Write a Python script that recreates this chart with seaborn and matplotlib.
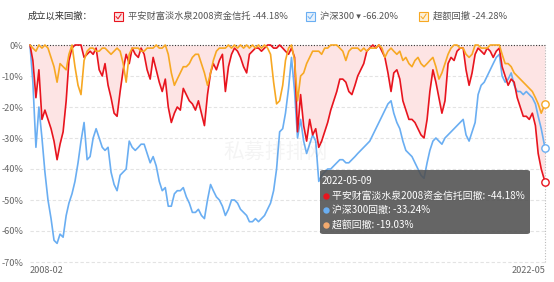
import numpy as np
import pandas as pd
import matplotlib
matplotlib.use("Agg")
import matplotlib.pyplot as plt
import seaborn as sns
from matplotlib.patches import FancyBboxPatch, Rectangle
from matplotlib.lines import Line2D

# ---------------- data ----------------
START = "2008-02-01"
END_DATE = "2022-05-09"

fund_dd = (
    [0, -5, -17, -8, -24, -21, -24, -27, -31, -37, -32]                       # 2008
    + [-28, -18, -5, -1, 0, 0, 0, -4, -3, -2, -3, -1]                       # 2009
    + [-8, -10, -6, -13, -17, -22, -23, -15, -8, -3, -6, -1]                # 2010
    + [-3, -4, -1, -3, -8, -11, -4, -8, -12, -15, -11, -20]                 # 2011
    + [-25, -22, -20, -21, -14, -16, -18, -19, -21, -18, -22, -26]          # 2012
    + [-16, -9, -6, -8, -5, -3, -15, -7, -3, -1, -2, -4]                    # 2013
    + [-7, -9, -3, -2, -1, -1, -2, -1, 0, 0, -1, -1]                        # 2014
    + [0, -1, -2, -3, -1, -4, -28, -16, -26, -31, -24, -29]                 # 2015
    + [-27, -33, -31, -28, -25, -21, -18, -15, -11, -11, -12, -15]          # 2016
    + [-16, -13, -10, -8, -6, -2, -1, 0, -1, 0, -2, -4]                     # 2017
    + [-9, -15, -9, -8, -11, -18, -21, -24, -24, -25, -27, -29]             # 2018
    + [-30, -24, -15, -8, -12, -17, -22, -18, -6, -4, -5, -2]               # 2019
    + [-1, -1, -8, -13, -9, -3, -1, -2, -3, -1, -2, -4]                     # 2020
    + [-2, -1, -7, -10, -13, -11, -12, -17, -20, -23, -23, -24]             # 2021
    + [-22, -26, -35, -40, -44.18]                                          # 2022
)

csi300_dd = (
    [0, -12, -33, -20, -30, -41, -50, -56, -63, -64, -61]
    + [-62, -55, -51, -48, -44, -38, -31, -25, -37, -36, -30, -27]
    + [-30, -33, -34, -33, -41, -45, -47, -42, -41, -40, -31, -33]
    + [-34, -33, -32, -32, -35, -38, -36, -39, -44, -47, -46, -52]
    + [-52, -48, -47, -47, -46, -49, -51, -54, -54, -53, -55, -56]
    + [-50, -45, -47, -49, -50, -52, -55, -53, -50, -50, -51, -53]
    + [-54, -55, -57, -57, -56, -57, -56, -55, -53, -51, -47, -40]
    + [-28, -27, -22, -14, -4, -15, -30, -24, -31, -35, -32, -29]
    + [-31, -44, -42, -41, -40, -40, -39, -38, -37, -37, -38, -38]
    + [-37, -36, -35, -34, -33, -32, -31, -29, -27, -25, -23, -21]
    + [-19, -18, -22, -25, -27, -31, -34, -35, -36, -38, -40, -42]
    + [-43, -38, -34, -31, -30, -31, -32, -30, -29, -28, -27, -26]
    + [-25, -24, -29, -31, -28, -25, -16, -13, -12, -10, -8, -6]
    + [-4, -3, -10, -12, -11, -9, -13, -15, -15, -16, -15, -16]
    + [-17, -19, -23, -27, -33.24]
)

excess_dd = (
    [0, -1, -2, 0, -1, 0, -1, -4, -7, -12, -6]
    + [-7, -8, -3, 0, -7, -13, -16, -5, -2, -1, -1, -2]
    + [-2, -1, -1, -2, -3, -2, -1, -2, -6, -12, -3, -1]
    + [-1, -1, -2, -2, -1, -1, -1, 0, -1, -1, 0, -3]
    + [-9, -13, -11, -9, -7, -7, -6, -4, -3, -3, -6, -9]
    + [-13, -9, -5, -2, -1, -1, -1, 0, -1, 0, -1, 0]
    + [-1, 0, -1, 0, -1, 0, -1, 0, -1, -3, -12, -19]
    + [-18, -13, -5, -1, 0, -5, -18, -10, -9, -6, -4, -2]
    + [-2, -2, -3, -1, -1, 0, 0, 0, -1, -2, -5, -2]
    + [-1, -1, -1, -2, -1, -2, -1, -1, -1, 0, -1, -4]
    + [-2, -1, -2, -3, -2, -5, -4, -6, -7, -5, -4, -6]
    + [-7, -6, -5, -4, -7, -11, -9, -6, -3, -1, 0, 0]
    + [-1, -1, -3, -4, -3, 0, 0, -1, -1, -1, 0, 0]
    + [0, 0, -3, -6, -6, -7, -9, -10, -11, -12, -13, -14]
    + [-15, -17, -19, -22, -19.03]
)

series_names = ["平安财富淡水泉2008资金信托", "沪深300", "超额回撤"]
max_dd = [-44.18, -66.20, -24.28]
tooltip_labels = ["平安财富淡水泉2008资金信托回撤", "沪深300回撤", "超额回撤"]
y_ticks = [0, -10, -20, -30, -40, -50, -60, -70]
x_tick_labels = ["2008-02", "2022-05"]

months = pd.date_range(START, periods=len(fund_dd), freq="MS")
dates = months[:-1].append(pd.DatetimeIndex([END_DATE]))

RED = "#e8141e"
BLUE = "#6aaef2"
ORANGE = "#f7a823"
ORANGE_DOT = "#f3aa6e"
FILL = "#fde4e4"
TINTS = {RED: "#fbe3e3", BLUE: "#e6f1fc", ORANGE: "#fdf0d8"}

sns.set_theme(style="white")
plt.rcParams["font.family"] = ["Noto Sans CJK SC", "DejaVu Sans"]

W, H = 554, 282
fig = plt.figure(figsize=(W / 100, H / 100), dpi=100)
ax = fig.add_axes([30 / W, 1 - 262 / H, 515 / W, 217 / H])

def fx(px):
    return px / W

def fy(py):
    return 1 - py / H

# fill under fund drawdown
ax.fill_between(dates, fund_dd, 0, color=FILL, lw=0, zorder=1)

# grid lines
for v in y_ticks[1:]:
    ax.axhline(v, color="#e3e3e3", lw=0.8, ls=(0, (3, 2)), zorder=0)
ax.axhline(0, color="#333333", lw=0.8, ls=(0, (1, 1.5)), zorder=2)
ax.axvline(dates[-1], color="#bbbbbb", lw=0.8, ls=(0, (1, 1.5)), zorder=2)

df = pd.DataFrame({"date": dates, "fund": fund_dd, "csi": csi300_dd, "excess": excess_dd})
sns.lineplot(data=df, x="date", y="fund", color=RED, lw=1.2, ax=ax, zorder=4)
sns.lineplot(data=df, x="date", y="csi", color=BLUE, lw=1.2, ax=ax, zorder=3)
sns.lineplot(data=df, x="date", y="excess", color=ORANGE, lw=1.2, ax=ax, zorder=5)
for ln in ax.lines:
    ln.set_clip_on(False)

# end markers
for col, c in [("fund", RED), ("csi", BLUE), ("excess", ORANGE)]:
    ax.scatter([df["date"].iloc[-1]], [df[col].iloc[-1]], s=28, facecolor="white",
               edgecolor=c, linewidth=1.0, zorder=7, clip_on=False)

ax.set_xlim(dates[0], dates[-1])
ax.set_ylim(-70, 0)
ax.set_xlabel("")
ax.set_ylabel("")
for s in ax.spines.values():
    s.set_visible(False)
ax.set_yticks(y_ticks)
ax.set_yticklabels([f"{v}%" for v in y_ticks])
ax.tick_params(axis="y", length=0, pad=5, labelsize=6.6, labelcolor="#666666")
ax.set_xticks([dates[0], dates[-1]])
ax.set_xticklabels(x_tick_labels)
ax.tick_params(axis="x", length=0, pad=3, labelsize=6.6, labelcolor="#666666")
lbls = ax.get_xticklabels()
lbls[0].set_ha("left")
lbls[1].set_ha("right")

# watermark
fig.text(fx(276), fy(152), "私募排排网", fontsize=15, color="#000000", alpha=0.045,
         ha="center", va="center")

# legend row
ly = fy(16.5)
fig.text(fx(28), ly, "成立以来回撤：", fontsize=6.7, color="#333333", ha="left", va="center")
legend_items = [
    (114, RED, f"{series_names[0]} {max_dd[0]:.2f}%"),
    (306, BLUE, f"{series_names[1]} ▾ {max_dd[1]:.2f}%"),
    (419, ORANGE, f"{series_names[2]} {max_dd[2]:.2f}%"),
]
for bx, c, txt in legend_items:
    fig.add_artist(Rectangle((fx(bx), fy(21)), 9 / W, 9 / H, transform=fig.transFigure,
                             facecolor=TINTS[c], edgecolor=c, lw=0.8))
    fig.add_artist(Line2D([fx(bx + 2), fx(bx + 4), fx(bx + 7.2)],
                          [fy(16.5), fy(18.8), fy(14)], transform=fig.transFigure,
                          color=c, lw=0.7))
    fig.text(fx(bx + 14), ly, txt, fontsize=6.7, color="#555555", ha="left", va="center")

# tooltip
tip = FancyBboxPatch((fx(320), fy(234)), (530 - 320) / W, (234 - 170) / H,
                     boxstyle="round,pad=0,rounding_size=0.006", transform=fig.transFigure,
                     facecolor="#505050", edgecolor="none", alpha=0.88, zorder=10)
fig.add_artist(tip)
fig.text(fx(322), fy(181), END_DATE, fontsize=7.1, color="white", ha="left", va="center", zorder=11)
tip_vals = [fund_dd[-1], csi300_dd[-1], excess_dd[-1]]
dot_colors = [RED, BLUE, ORANGE_DOT]
for i, (lab, v, c) in enumerate(zip(tooltip_labels, tip_vals, dot_colors)):
    yy = fy(195.5 + i * 14.5)
    fig.add_artist(Line2D([fx(326)], [yy], marker="o", markersize=4.6, color=c,
                          markeredgewidth=0, transform=fig.transFigure, zorder=11))
    fig.text(fx(332), yy, f"{lab}: {v:.2f}%", fontsize=7.1, color="white",
             ha="left", va="center", zorder=11)

fig.savefig("out.png", dpi=100)
